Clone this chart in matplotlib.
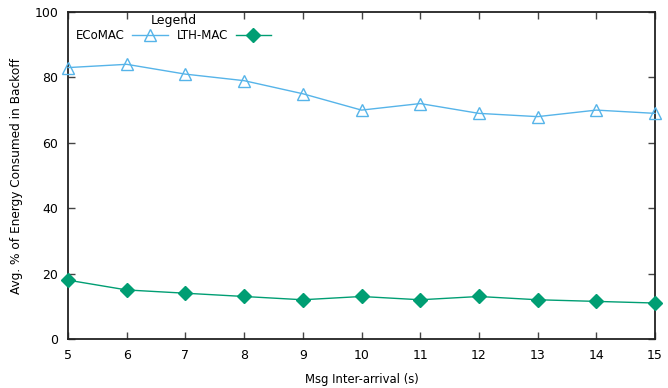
import matplotlib
matplotlib.use("Agg")
import matplotlib.pyplot as plt

x = [5, 6, 7, 8, 9, 10, 11, 12, 13, 14, 15]
ecomac = [83, 84, 81, 79, 75, 70, 72, 69, 68, 70, 69]
lthmac = [18, 15, 14, 13, 12, 13, 12, 13, 12, 11.5, 11]
yticks = [0, 20, 40, 60, 80, 100]

plt.rcParams['font.family'] = ['DejaVu Sans']
plt.rcParams['font.size'] = 8

fig = plt.figure(figsize=(6.68, 3.88), dpi=100)
ax = fig.add_axes([68/668, 1-339/388, (655-68)/668, (339-12)/388])

ax.plot(x, ecomac, color='#56b4e9', lw=1, marker='^', ms=9, mfc='none',
        mec='#56b4e9', mew=1, label='ECoMAC', clip_on=False, zorder=3)
ax.plot(x, lthmac, color='#009e73', lw=1, marker='D', ms=7.5, mfc='#009e73',
        mec='#009e73', label='LTH-MAC', clip_on=False, zorder=3)

ax.set_xlim(5, 15)
ax.set_ylim(0, 100)
ax.set_xticks(x)
ax.set_yticks(yticks)
ax.tick_params(direction='in', length=5, width=1, top=True, right=True,
               color='#444444', labelsize=9, pad=7)
for s in ax.spines.values():
    s.set_linewidth(1.3)
    s.set_color('#222222')

ax.set_xlabel('Msg Inter-arrival (s)', fontsize=8.4, labelpad=8)
ax.set_ylabel('Avg. % of Energy Consumed in Backoff', fontsize=8.7, labelpad=8)

leg = ax.legend(loc='upper left', bbox_to_anchor=(0.0, 1.02), ncol=2,
                markerfirst=False, frameon=False, title='Legend',
                fontsize=8.5, title_fontsize=9, handlelength=3.0,
                columnspacing=0.8, handletextpad=0.6, borderpad=0.2,
                labelspacing=0.2)

fig.savefig('out.png', dpi=100)
